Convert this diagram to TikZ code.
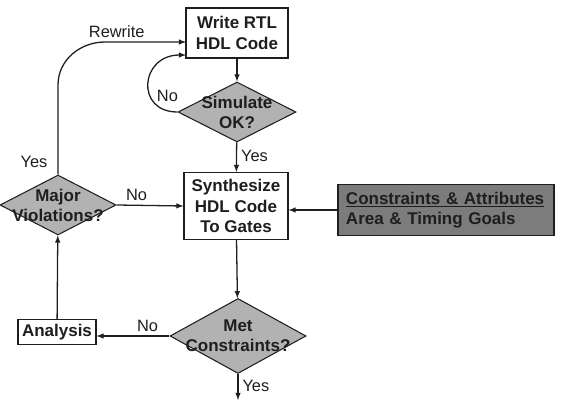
\documentclass[tikz,border=0pt]{standalone}
\usepackage{fontspec}
\setmainfont{Liberation Sans}
\usepackage{xcolor}
\usetikzlibrary{arrows}
\usetikzlibrary{shapes.geometric}
\definecolor{qgray}{RGB}{178,178,178}
\definecolor{qdark}{RGB}{124,124,124}
\definecolor{qline}{RGB}{30,30,30}

\tikzset{
flowbox/.style={draw=qline, line width=0.9pt, fill=white, align=center, inner sep=0pt, font=\fontsize{14.5}{17.5}\selectfont\bfseries, text=qline},
flowdia/.style={draw=qline, line width=0.9pt, fill=qgray, shape=diamond, inner sep=0pt},
diatext/.style={align=center, font=\fontsize{14.5}{17}\selectfont\bfseries, text=qline},
flowarr/.style={-latex, line width=1.1pt, draw=qline},
answer/.style={font=\fontsize{14}{16}\selectfont, text=qline}
}

\begin{document}
\begin{tikzpicture}[x=0.03cm, y=-0.03cm]

\useasboundingbox (0,0) rectangle (581,402);

%boxes:
\node[flowbox, minimum width=3.06cm, minimum height=1.5cm] (write) at (237,33) {Write RTL\\HDL Code};
\node[flowbox, minimum width=3.12cm, minimum height=2.01cm] (synth) at (236,206) {Synthesize\\HDL Code\\To Gates};
\node[flowbox, minimum width=2.34cm, minimum height=0.75cm] (ana) at (57,332) {Analysis};
\node[flowbox, fill=qdark, align=left, minimum width=6.48cm, minimum height=1.53cm, text width=6.0cm] (cons) at (446,210) {\underline{Constraints \& Attributes}\\Area \& Timing Goals};

%decisions:
\node[flowdia, minimum width=3.54cm, minimum height=1.8cm] (sim) at (237,112) {};
\node[diatext] (simt) at (sim) {Simulate\\OK?};
\node[flowdia, minimum width=3.48cm, minimum height=1.8cm] (major) at (58,205) {};
\node[diatext] (majort) at (major) {Major\\Violations?};
\node[flowdia, minimum width=4.08cm, minimum height=2.25cm] (met) at (238,336) {};
\node[diatext] (mett) at (met) {Met\\Constraints?};

\coordinate (out) at (238,400);
\coordinate (wr) at (186,42);
\coordinate (wn) at (186,55);

%arrows:
\draw[flowarr] (write) -- (sim);
\draw[flowarr] (sim) -- (synth) node[answer, pos=0.45, right] {Yes};
\draw[flowarr] (sim.west) .. controls (135,112) and (140,55) .. (wn) node[answer, pos=0.35, right, xshift=2pt] {No};
\draw[flowarr] (major.north) -- (58,85) to[out=90, in=180] (105,42) node[answer, above, xshift=10pt] {Rewrite} -- (wr);
\node[answer] (yes1) at (34,162) {Yes};
\draw[flowarr] (major.east) -- (synth.west) node[answer, pos=0.3, above] {No};
\draw[flowarr] (cons.west) -- (cons.west -| synth.east);
\draw[flowarr] (synth) -- (met);
\draw[flowarr] (met.west) -- (met.west -| ana.east) node[answer, pos=0.3, above] {No};
\draw[flowarr] (ana) -- (major);
\draw[flowarr] (met.south) -- (out) node[answer, pos=0.45, right] {Yes};

\end{tikzpicture}
\end{document}
